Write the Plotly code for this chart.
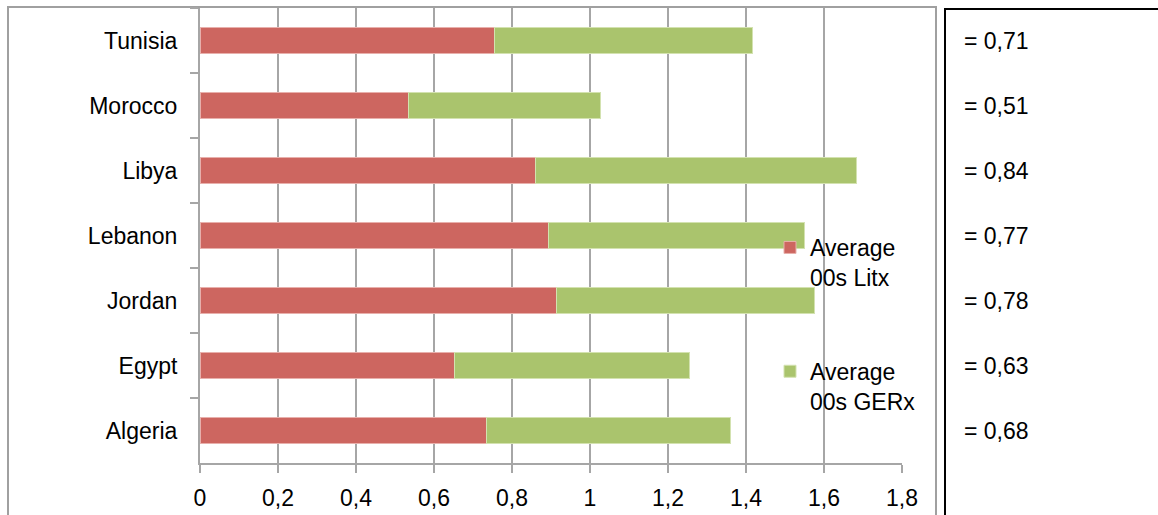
import plotly.graph_objects as go

# ---- data ----
countries = ["Tunisia", "Morocco", "Libya", "Lebanon", "Jordan", "Egypt", "Algeria"]
litx = [0.754, 0.535, 0.861, 0.894, 0.913, 0.653, 0.735]
gerx = [0.662, 0.493, 0.822, 0.657, 0.663, 0.601, 0.624]
avg_labels = [0.71, 0.51, 0.84, 0.77, 0.78, 0.63, 0.68]
x_ticks = [0, 0.2, 0.4, 0.6, 0.8, 1, 1.2, 1.4, 1.6, 1.8]
series_names = ["Average<br>00s Litx", "Average<br>00s GERx"]

FONT = "Liberation Sans Narrow, Arial Narrow, Liberation Sans, Arial, sans-serif"
FS = 23
RED = "#CD6660"
GREEN = "#AAC46D"
GRID = "#A6A6A6"

W, H = 1158, 515
L, R, T, B = 200, 256, 8, 52
pw, ph = W - L - R, H - T - B


def px(xp):
    return (xp - L) / pw


def py(yp):
    return (H - B - yp) / ph


fig = go.Figure()
fig.add_trace(go.Bar(
    y=countries, x=litx, orientation="h", name=series_names[0],
    marker=dict(color=RED, line=dict(color="#E8B0AC", width=1)),
    width=0.4, legendgroup="a",
))
fig.add_trace(go.Bar(
    y=countries, x=gerx, orientation="h", name=series_names[1],
    marker=dict(color=GREEN, line=dict(color="#D3E2B0", width=1)),
    width=0.4, legendgroup="b",
))

annotations = []
for c, v in zip(countries, avg_labels):
    annotations.append(dict(
        x=px(962), xref="paper", y=c, yref="y",
        text="= " + f"{v:.2f}".replace(".", ","), showarrow=False,
        xanchor="left", yanchor="middle",
        font=dict(family=FONT, size=FS, color="#000000"),
    ))

shapes = [
    # outer chart border (grey)
    dict(type="rect", xref="paper", yref="paper",
         x0=px(8), x1=px(936), y0=py(540), y1=py(7),
         line=dict(color="#A0A0A0", width=2), fillcolor="rgba(0,0,0,0)", layer="below"),
    # right box (black)
    dict(type="rect", xref="paper", yref="paper",
         x0=px(945), x1=px(1180), y0=py(540), y1=py(9),
         line=dict(color="#000000", width=2), fillcolor="rgba(0,0,0,0)"),
]

fig.update_layout(
    width=W, height=H,
    margin=dict(l=L, r=R, t=T, b=B, pad=0, autoexpand=False),
    paper_bgcolor="white", plot_bgcolor="white",
    barmode="stack",
    separators=", ",
    font=dict(family=FONT, size=FS, color="#000000"),
    showlegend=True,
    legend=dict(
        x=px(770), y=py(226), xanchor="left", yanchor="top",
        bgcolor="rgba(0,0,0,0)", borderwidth=0,
        traceorder="grouped", tracegroupgap=61, valign="top",
        itemwidth=30, font=dict(family=FONT, size=FS),
    ),
    xaxis=dict(
        range=[0, 1.8], tickvals=x_ticks, ticktext=[str(t).replace(".", ",") for t in x_ticks],
        showgrid=True, gridcolor=GRID, gridwidth=2,
        showline=True, linecolor=GRID, linewidth=2,
        ticks="outside", ticklen=8, tickcolor=GRID, tickwidth=2,
        ticklabelstandoff=5, zeroline=False, fixedrange=True, automargin=False,
    ),
    yaxis=dict(
        autorange="reversed", type="category",
        showline=True, linecolor=GRID, linewidth=2,
        ticks="outside", ticklen=8, tickcolor=GRID, tickwidth=2,
        tickson="boundaries", showgrid=False,
        ticklabelstandoff=16, fixedrange=True, automargin=False,
    ),
    annotations=annotations,
    shapes=shapes,
)

fig.write_html("out.html")
